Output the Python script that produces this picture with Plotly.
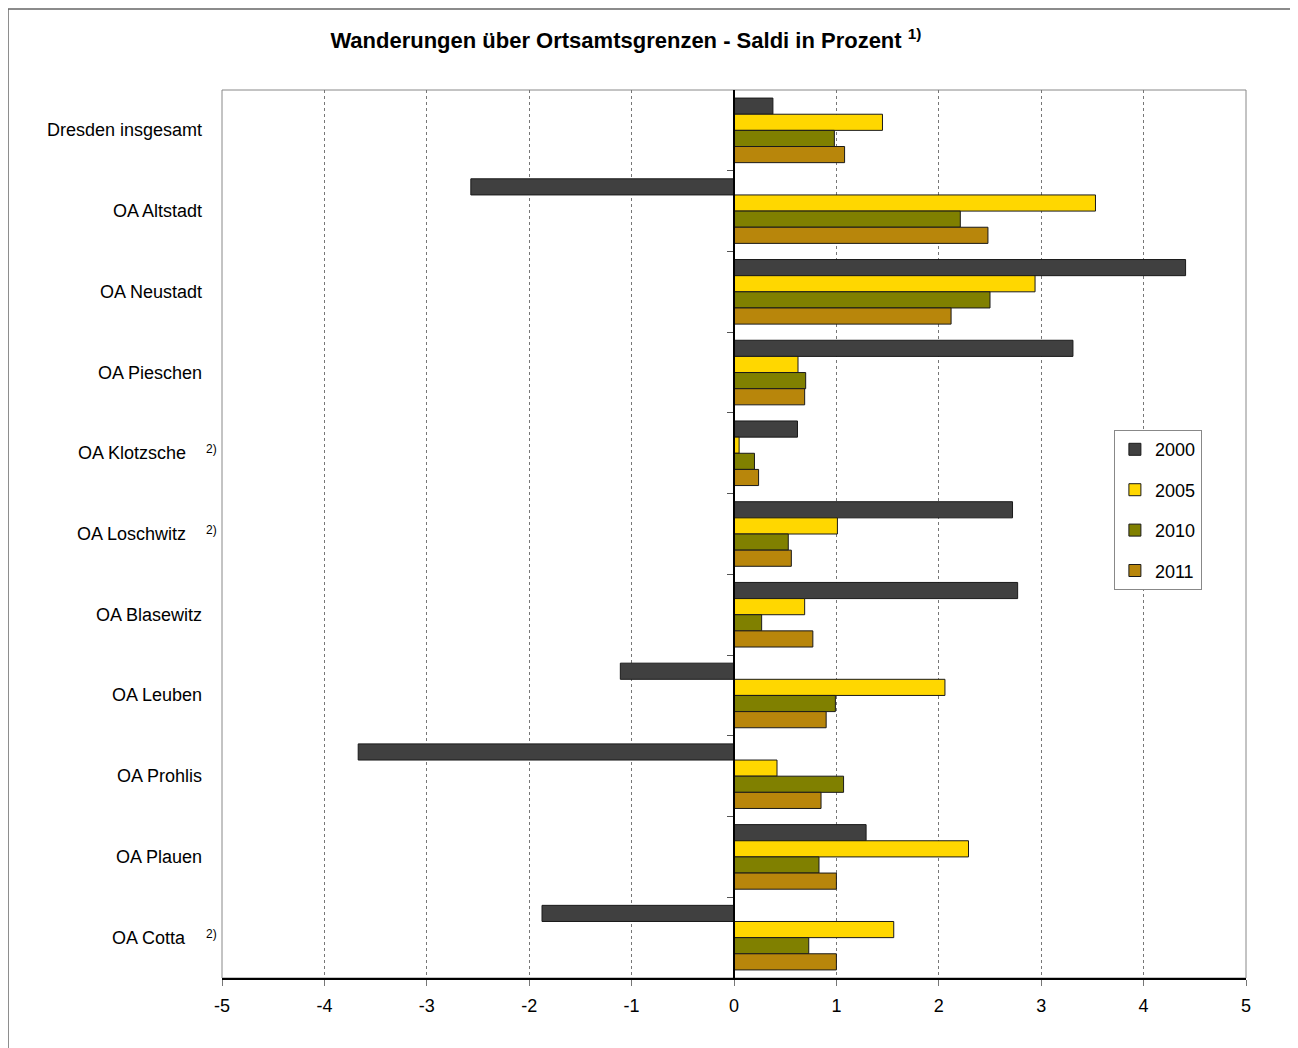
import plotly.graph_objects as go

districts = ["Dresden insgesamt", "OA Altstadt", "OA Neustadt", "OA Pieschen", "OA Klotzsche",
             "OA Loschwitz", "OA Blasewitz", "OA Leuben", "OA Prohlis", "OA Plauen", "OA Cotta"]
footnote_2 = ["OA Klotzsche", "OA Loschwitz", "OA Cotta"]

years = ["2000", "2005", "2010", "2011"]
saldo_2000 = [0.38, -2.57, 4.41, 3.31, 0.62, 2.72, 2.77, -1.11, -3.67, 1.29, -1.875]
saldo_2005 = [1.45, 3.53, 2.94, 0.625, 0.05, 1.01, 0.69, 2.06, 0.42, 2.29, 1.56]
saldo_2010 = [0.98, 2.21, 2.50, 0.70, 0.20, 0.53, 0.27, 0.99, 1.07, 0.83, 0.73]
saldo_2011 = [1.08, 2.48, 2.12, 0.69, 0.24, 0.56, 0.77, 0.90, 0.85, 1.00, 1.00]

x_ticks = [-5, -4, -3, -2, -1, 0, 1, 2, 3, 4, 5]
x_ticktext = [str(v) for v in x_ticks]  # plain hyphen as in the original

colors = {"2000": "#404040", "2005": "#FFD700", "2010": "#808000", "2011": "#B8860B"}
series = dict(zip(years, [saldo_2000, saldo_2005, saldo_2010, saldo_2011]))

FONT = "Liberation Sans, Arial, sans-serif"
pos = list(range(len(districts)))

fig = go.Figure()
for yr in years:
    fig.add_trace(go.Bar(
        y=pos, x=series[yr], name=yr, orientation="h",
        marker=dict(color=colors[yr], line=dict(color="#1a1a1a", width=1)),
        legendgroup=yr,
    ))

# invisible trace so the zero-axis with category ticks gets drawn
fig.add_trace(go.Scatter(x=[0], y=[0], yaxis="y2", mode="markers",
                         marker=dict(opacity=0), showlegend=False, hoverinfo="skip"))

for i, name in enumerate(districts):
    if name in footnote_2:
        fig.add_annotation(x=-0.033, y=i, xref="x domain", yref="y", text=name,
                           xanchor="right", showarrow=False, font=dict(size=18))
        fig.add_annotation(x=-0.018, y=i, xref="x domain", yref="y", text="2)",
                           xanchor="left", yanchor="middle", yshift=4, showarrow=False,
                           font=dict(size=12))
    else:
        fig.add_annotation(x=-0.018, y=i, xref="x domain", yref="y", text=name,
                           xanchor="right", showarrow=False, font=dict(size=18))

rng = [len(districts) - 0.5, -0.5]
fig.update_layout(
    width=1290, height=1040,
    margin=dict(l=214, r=52, t=82, b=70),
    plot_bgcolor="white", paper_bgcolor="white",
    font=dict(family=FONT, size=16, color="black"),
    barmode="group", bargap=0.2, bargroupgap=0,
    title=dict(text="<b>Wanderungen über Ortsamtsgrenzen - Saldi in Prozent <sup>1)</sup></b>",
               x=0.479, xanchor="center", y=0.969, yanchor="middle",
               font=dict(size=22)),
    xaxis=dict(range=[-5, 5], tickvals=x_ticks, ticktext=x_ticktext,
               showgrid=True, gridcolor="#777777", griddash="dot",
               gridwidth=1, zeroline=False, showline=True, linecolor="black", linewidth=1.5,
               ticks="outside", ticklen=6, tickcolor="#777777", tickfont=dict(size=18),
               ticklabelstandoff=5),
    yaxis=dict(range=rng, showticklabels=False, showgrid=False, zeroline=False,
               tickvals=[]),
    yaxis2=dict(range=rng, overlaying="y", anchor="free", position=0.5, side="left",
                tickvals=[i + 0.5 for i in range(len(districts) - 1)],
                ticks="outside", ticklen=6, tickcolor="#555555", showticklabels=False,
                showline=True, linecolor="black", linewidth=1.5, showgrid=False, zeroline=False),
    legend=dict(x=0.871, y=0.617, xanchor="left", yanchor="top",
                bgcolor="white", bordercolor="#888888", borderwidth=1,
                font=dict(size=18), tracegroupgap=14, itemwidth=30),
    shapes=[
        dict(type="rect", xref="x domain", yref="y domain", x0=0, x1=1, y0=0, y1=1,
             line=dict(color="#888888", width=1), layer="below"),
        dict(type="rect", xref="paper", yref="paper", x0=-0.209, x1=1.2, y0=-0.2, y1=1.0912,
             line=dict(color="#666666", width=1.5), layer="below"),
    ],
)

fig.write_html("out.html")
